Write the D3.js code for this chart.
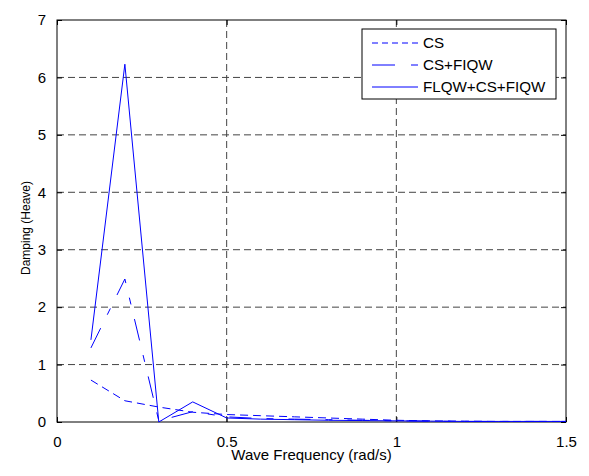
<!DOCTYPE html>
<html><head><meta charset="utf-8">
<script src="https://cdn.jsdelivr.net/npm/d3@7"></script>
<style>body{margin:0;background:#fff}svg{display:block}text{font-family:"Liberation Sans",Arial,sans-serif}</style>
</head><body>
<script>
const freq = [0.1,0.2,0.3,0.4,0.5,0.6,0.7,0.8,0.9,1.0,1.1,1.2,1.3,1.4,1.5];
const cs = [0.73,0.37,0.26,0.17,0.13,0.11,0.09,0.07,0.05,0.03,0.02,0.015,0.01,0.01,0.01];
const csFiqw = [1.29,2.49,0.02,0.18,0.09,0.06,0.05,0.04,0.03,0.02,0.015,0.01,0.01,0.01,0.01];
const flqwCsFiqw = [1.43,6.23,0.0,0.35,0.07,0.05,0.04,0.03,0.025,0.02,0.015,0.01,0.01,0.01,0.01];
const xTicks = [0,0.5,1,1.5];
const yTicks = [0,1,2,3,4,5,6,7];
const seriesNames = ["CS","CS+FIQW","FLQW+CS+FIQW"];

const W=589,H=476, L=57,R=566,T=20,B=422;
const svg=d3.select("body").append("svg").attr("width",W).attr("height",H);
const x=d3.scaleLinear().domain([0,1.5]).range([L,R]);
const y=d3.scaleLinear().domain([0,7]).range([B,T]);

// grid
const g=svg.append("g");
xTicks.slice(1,-1).forEach(v=>g.append("line").attr("x1",x(v)).attr("x2",x(v)).attr("y1",T).attr("y2",B)
  .attr("stroke","#444").attr("stroke-dasharray","7,4"));
yTicks.slice(1,-1).forEach(v=>g.append("line").attr("x1",L).attr("x2",R).attr("y1",y(v)).attr("y2",y(v))
  .attr("stroke","#444").attr("stroke-dasharray","7,4"));

// axes (inward ticks)
const fmt=d3.format("");
const ax=svg.append("g").attr("transform",`translate(0,${B})`).call(d3.axisBottom(x).tickValues(xTicks).tickSizeInner(-5).tickSizeOuter(0).tickPadding(11).tickFormat(fmt));
const axT=svg.append("g").attr("transform",`translate(0,${T})`).call(d3.axisTop(x).tickValues(xTicks).tickSizeInner(-5).tickSizeOuter(0).tickFormat(""));
const ay=svg.append("g").attr("transform",`translate(${L},0)`).call(d3.axisLeft(y).tickValues(yTicks).tickSizeInner(-5).tickSizeOuter(0).tickPadding(11).tickFormat(fmt));
const ayR=svg.append("g").attr("transform",`translate(${R},0)`).call(d3.axisRight(y).tickValues(yTicks).tickSizeInner(-5).tickSizeOuter(0).tickFormat(""));
[ax,axT,ay,ayR].forEach(a=>{a.select(".domain").remove();a.selectAll("line").attr("stroke","#000");
  a.selectAll("text").attr("font-size",15).attr("fill","#000").style("font-family","Liberation Sans, Arial, sans-serif");});
ax.selectAll("text").attr("dy","0.9em");
svg.append("rect").attr("x",L).attr("y",T).attr("width",R-L).attr("height",B-T).attr("fill","none").attr("stroke","#000");

// lines
const dashes=["8,5","22,15,7,15",null];
const data=[cs,csFiqw,flqwCsFiqw];
const line=d3.line().x((d,i)=>x(freq[i])).y(d=>y(d));
data.forEach((s,k)=>{
  const p=svg.append("path").datum(s).attr("d",line).attr("fill","none").attr("stroke","#0000ff").attr("stroke-width",1);
  if(dashes[k]) p.attr("stroke-dasharray",dashes[k]);
});

// legend
const lg=svg.append("g");
lg.append("rect").attr("x",362).attr("y",29).attr("width",194).attr("height",70).attr("fill","#fff").attr("stroke","#000");
const rowY=[43,65,87];
seriesNames.forEach((n,k)=>{
  const l=lg.append("line").attr("x1",372).attr("x2",418).attr("y1",rowY[k]).attr("y2",rowY[k]).attr("stroke","#0000ff");
  if(k===0) l.attr("stroke-dasharray","6,4");
  if(k===1) l.attr("stroke-dasharray","23,16,8,20");
  lg.append("text").attr("x",423).attr("y",rowY[k]).attr("dy","0.36em").attr("font-size",15.2).text(n);
});

// axis titles
svg.append("text").attr("x",(L+R)/2).attr("y",460).attr("text-anchor","middle").attr("font-size",15).text("Wave Frequency (rad/s)");
svg.append("text").attr("transform","translate(30,228) rotate(-90)").attr("text-anchor","middle").attr("font-size",12).text("Damping (Heave)");
</script>
</body></html>
